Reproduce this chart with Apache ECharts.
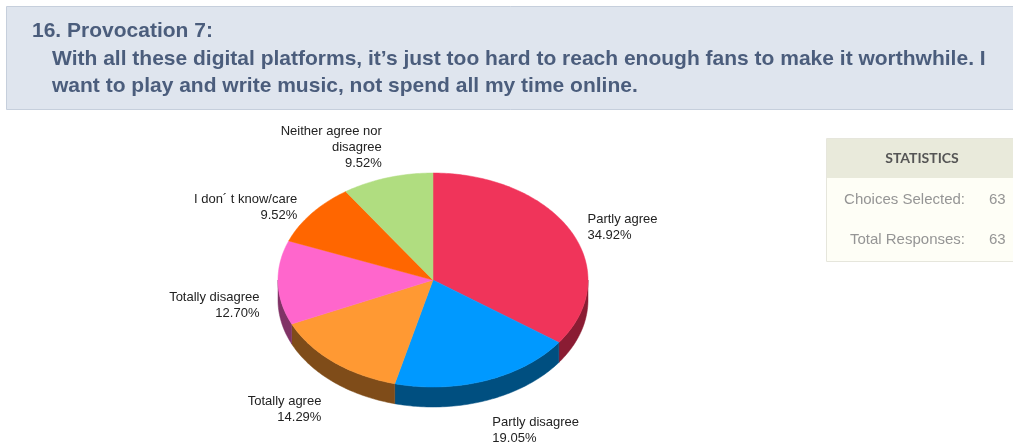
<!DOCTYPE html>
<html>
<head>
<meta charset="utf-8">
<script src="https://cdn.jsdelivr.net/npm/echarts@6/dist/echarts.min.js"></script>
<style>
  html, body { margin: 0; padding: 0; background: #ffffff; }
  #chart { width: 1013px; height: 443px; }
</style>
</head>
<body>
<div id="chart"></div>
<script>
// Survey answers, listed clockwise from 12 o'clock
const categories = ['Partly agree', 'Partly disagree', 'Totally agree', 'Totally disagree', 'I don\u00b4 t know/care', 'Neither agree nor\ndisagree'];
const counts = [22, 12, 9, 8, 6, 6];
const topColors = ['#F0345A', '#0099FF', '#FF9933', '#FF66CC', '#FF6600', '#B0DD80'];
const sideColors = ['#8A1C33', '#004F80', '#7F4C19', '#803366', '#803300', '#587040'];

const questionNumber = '16. Provocation 7:';
const questionLines = [
  'With all these digital platforms, it\u2019s just too hard to reach enough fans to make it worthwhile. I',
  'want to play and write music, not spend all my time online.'
];
const statRows = [['Choices Selected:', 63], ['Total Responses:', 63]];

// Geometry of the tilted pie
const CX = 433, CY = 280, RX = 155, RY = 107, DEPTH = 20;
const total = counts.reduce((a, b) => a + b, 0);

function angleRange(i) {
  let before = 0;
  for (let k = 0; k < i; k++) before += counts[k];
  return [before / total * Math.PI * 2, (before + counts[i]) / total * Math.PI * 2];
}
function ept(a, dy) {
  return [CX + RX * Math.sin(a), CY - RY * Math.cos(a) + (dy || 0)];
}
function arcPoints(a0, a1, dy) {
  const pts = [];
  const n = Math.max(2, Math.ceil((a1 - a0) / (Math.PI / 180)));
  for (let k = 0; k <= n; k++) pts.push(ept(a0 + (a1 - a0) * k / n, dy));
  return pts;
}

function renderSlice(params, api) {
  const i = params.dataIndex;
  const [a0, a1] = angleRange(i);
  const children = [];

  // front wall of the slice (visible between 3 and 9 o'clock)
  const s = Math.max(a0, Math.PI / 2), e = Math.min(a1, Math.PI * 1.5);
  if (e > s) {
    const upper = arcPoints(s, e, 0);
    const lower = arcPoints(s, e, DEPTH).reverse();
    children.push({
      type: 'polygon', z2: 1,
      shape: { points: upper.concat(lower) },
      style: { fill: sideColors[i], stroke: sideColors[i], lineWidth: 0.5 }
    });
  }

  // top face
  children.push({
    type: 'polygon', z2: 2,
    shape: { points: [[CX, CY]].concat(arcPoints(a0, a1, 0)) },
    style: { fill: topColors[i], stroke: topColors[i], lineWidth: 0.5 }
  });

  // label with percentage
  const mid = (a0 + a1) / 2;
  const dx = Math.sin(mid), dy = -Math.cos(mid);
  const vAlign = dy < -0.7 ? 'bottom' : (dy > 0.7 ? 'top' : 'middle');
  const lx = CX + RX * 1.12 * dx;
  const ly = CY + RY * 1.12 * dy + (dy > 0 ? DEPTH : 0) + (vAlign === 'bottom' ? 6 : 2);
  const pct = (counts[i] / total * 100).toFixed(2) + '%';
  children.push({
    type: 'text', z2: 3,
    style: {
      text: categories[i] + '\n' + pct,
      x: lx, y: ly,
      align: dx >= 0 ? 'left' : 'right',
      verticalAlign: vAlign,
      fill: '#222222',
      font: '13px "Liberation Sans", Arial, sans-serif',
      lineHeight: 16
    }
  });
  return { type: 'group', children: children };
}

const chart = echarts.init(document.getElementById('chart'));

const headFont = 'bold 21px "Liberation Sans", Arial, sans-serif';
const statFont = '15px "Liberation Sans", Arial, sans-serif';
const graphics = [
  // question header
  { type: 'rect', z: -1, shape: { x: 6.5, y: 6.5, width: 1030, height: 103 },
    style: { fill: '#DFE5EE', stroke: '#C6CFDC', lineWidth: 1 } },
  { type: 'text', x: 32, y: 31,
    style: { text: questionNumber, fill: '#4B5D7C', font: headFont, verticalAlign: 'middle' } },
  { type: 'text', x: 52, y: 59,
    style: { text: questionLines[0], fill: '#4B5D7C', font: headFont, verticalAlign: 'middle' } },
  { type: 'text', x: 52, y: 86,
    style: { text: questionLines[1], fill: '#4B5D7C', font: headFont, verticalAlign: 'middle' } },
  // statistics box
  { type: 'rect', shape: { x: 826.5, y: 138.5, width: 200, height: 123 },
    style: { fill: '#FEFEF6', stroke: '#E6E6DC', lineWidth: 1 } },
  { type: 'rect', shape: { x: 827, y: 139, width: 200, height: 39 },
    style: { fill: '#E9EADB' } },
  { type: 'text', x: 922, y: 158,
    style: { text: 'STATISTICS', fill: '#555555', font: 'bold 14px Lato, "Open Sans", sans-serif', align: 'center', verticalAlign: 'middle' } }
];
statRows.forEach((row, r) => {
  const y = 200 + r * 40;
  graphics.push({ type: 'text', x: 965, y: y,
    style: { text: row[0], fill: '#959595', font: statFont, align: 'right', verticalAlign: 'middle' } });
  graphics.push({ type: 'text', x: 989, y: y,
    style: { text: String(row[1]), fill: '#959595', font: statFont, align: 'left', verticalAlign: 'middle' } });
});

chart.setOption({
  animation: false,
  backgroundColor: '#ffffff',
  graphic: graphics,
  series: [{
    type: 'custom',
    coordinateSystem: 'none',
    data: counts,
    renderItem: renderSlice
  }]
});
</script>
</body>
</html>
